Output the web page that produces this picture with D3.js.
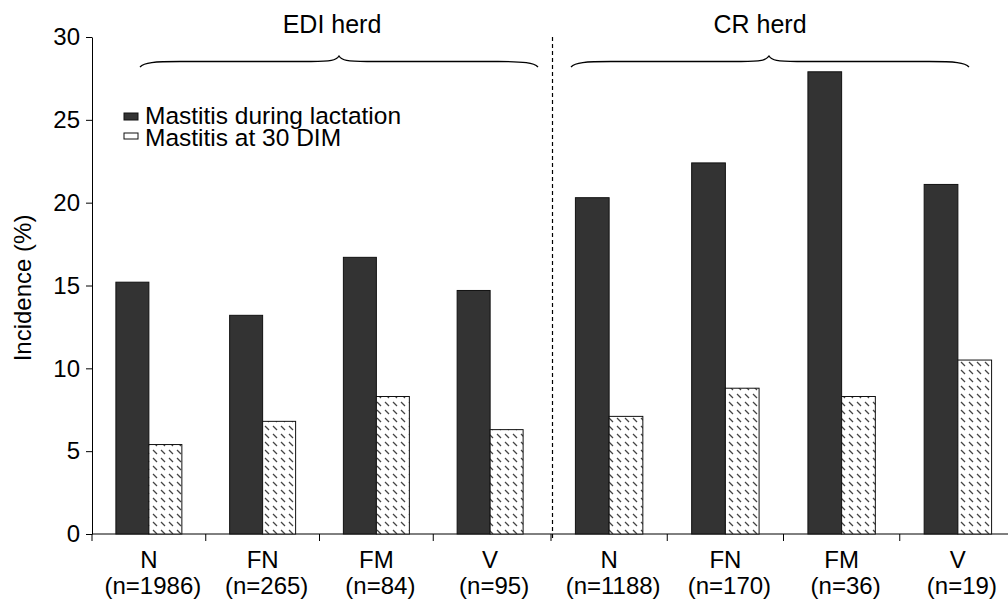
<!DOCTYPE html>
<html><head><meta charset="utf-8">
<script src="https://cdn.jsdelivr.net/npm/d3@7"></script>
<style>body{margin:0;background:#fff;} svg{display:block;} text{font-family:"Liberation Sans",Arial,Helvetica,sans-serif;fill:#000;}</style>
</head><body>
<svg id="c" width="1008" height="608"></svg>
<script>
const herds = ["EDI herd", "CR herd"];
const groups = ["N", "FN", "FM", "V"];
const ediN = ["(n=1986)", "(n=265)", "(n=84)", "(n=95)"];
const crN = ["(n=1188)", "(n=170)", "(n=36)", "(n=19)"];
const series = ["Mastitis during lactation", "Mastitis at 30 DIM"];
const ediLactation = [15.2, 13.2, 16.7, 14.7];
const ediDim30 = [5.4, 6.8, 8.3, 6.3];
const crLactation = [20.3, 22.4, 27.9, 21.1];
const crDim30 = [7.1, 8.8, 8.3, 10.5];
const yTicks = [0, 5, 10, 15, 20, 25, 30];

const svg = d3.select("#c");
const y = d3.scaleLinear().domain([0, 30]).range([534, 37]);
const xEDI = d3.scaleBand().domain(groups).range([92, 547]);
const xCR = d3.scaleBand().domain(groups).range([551, 1016]);

const defs = svg.append("defs");
const pat = defs.append("pattern").attr("id", "hatch").attr("patternUnits", "userSpaceOnUse")
  .attr("width", 8).attr("height", 8);
pat.append("rect").attr("width", 8).attr("height", 8).attr("fill", "#fff");
pat.append("line").attr("x1", 1).attr("y1", 2).attr("x2", 5).attr("y2", 6)
  .attr("stroke", "#444").attr("stroke-width", 1.3);

// axes
const yAxis = d3.axisLeft(y).tickValues(yTicks).tickSize(6).tickSizeOuter(0).tickPadding(6);
const gy = svg.append("g").attr("transform", "translate(92,0)").call(yAxis);
gy.selectAll("text").style("font-size", "24px").style("font-family", "'Liberation Sans',Arial,sans-serif");
gy.select(".domain").attr("stroke", "#000");

svg.append("line").attr("x1", 92).attr("x2", 1008).attr("y1", y(0)).attr("y2", y(0)).attr("stroke", "#000");

function drawHerd(x, lact, dim, nLabels) {
  const bw = x.bandwidth() * 0.29;
  const g = svg.append("g");
  groups.forEach((k, i) => {
    const cx = x(k) + x.bandwidth() / 2;
    g.append("rect").attr("x", cx - bw).attr("width", bw)
      .attr("y", y(lact[i])).attr("height", y(0) - y(lact[i]))
      .attr("fill", "#333").attr("stroke", "#111").attr("stroke-width", 1);
    g.append("rect").attr("x", cx).attr("width", bw)
      .attr("y", y(dim[i])).attr("height", y(0) - y(dim[i]))
      .attr("fill", "url(#hatch)").attr("stroke", "#111").attr("stroke-width", 1);
    g.append("text").attr("x", cx).attr("y", 568).attr("text-anchor", "middle")
      .style("font-size", "24px").text(k);
    g.append("text").attr("x", cx + 4).attr("y", 594).attr("text-anchor", "middle")
      .style("font-size", "24px").text(nLabels[i]);
  });
  // boundary ticks
  x.domain().forEach(k => {
    g.append("line").attr("x1", x(k)).attr("x2", x(k)).attr("y1", y(0)).attr("y2", y(0) + 7).attr("stroke", "#000");
  });
}
drawHerd(xEDI, ediLactation, ediDim30, ediN);
drawHerd(xCR, crLactation, crDim30, crN);

// divider
svg.append("line").attr("x1", 552.5).attr("x2", 552.5).attr("y1", 37).attr("y2", 538)
  .attr("stroke", "#000").attr("stroke-width", 1.2).attr("stroke-dasharray", "4,3");

// braces
function brace(x0, x1, xm) {
  const yb = 61.5, ye = 67, yp = 56;
  return `M${x0},${ye} C${x0+4},${yb+1} ${x0+14},${yb} ${x0+40},${yb} L${xm-28},${yb} C${xm-8},${yb} ${xm-3},${yb-1} ${xm},${yp} C${xm+3},${yb-1} ${xm+8},${yb} ${xm+28},${yb} L${x1-40},${yb} C${x1-14},${yb} ${x1-4},${yb+1} ${x1},${ye}`;
}
svg.append("path").attr("d", brace(140, 538, 339)).attr("fill", "none").attr("stroke", "#000").attr("stroke-width", 1.3);
svg.append("path").attr("d", brace(571, 969, 769)).attr("fill", "none").attr("stroke", "#000").attr("stroke-width", 1.3);
svg.append("text").attr("x", 332).attr("y", 33).attr("text-anchor", "middle").style("font-size", "25px").text(herds[0]);
svg.append("text").attr("x", 760).attr("y", 33).attr("text-anchor", "middle").style("font-size", "25px").text(herds[1]);

// legend
const leg = svg.append("g");
leg.append("rect").attr("x", 124).attr("y", 113).attr("width", 14).attr("height", 7).attr("fill", "#333").attr("stroke", "#111");
leg.append("text").attr("x", 145).attr("y", 124).style("font-size", "24.5px").text(series[0]);
leg.append("rect").attr("x", 124).attr("y", 133).attr("width", 14).attr("height", 6).attr("fill", "#fff").attr("stroke", "#111");
leg.append("text").attr("x", 145).attr("y", 146).style("font-size", "24.5px").text(series[1]);

// y label
svg.append("text").attr("transform", "translate(31,288) rotate(-90)").attr("text-anchor", "middle")
  .style("font-size", "24px").text("Incidence (%)");
</script>
</body></html>
